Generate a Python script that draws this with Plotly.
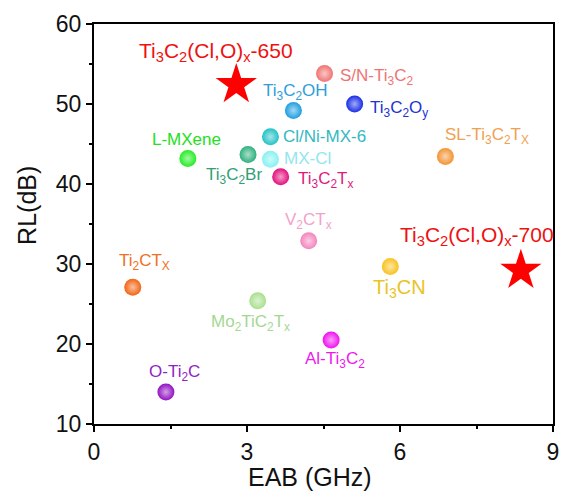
import plotly.graph_objects as go

# ---------------- data ----------------
ball_names = ["S/N-Ti<sub>3</sub>C<sub>2</sub>", "Ti<sub>3</sub>C<sub>2</sub>OH", "Ti<sub>3</sub>C<sub>2</sub>O<sub>y</sub>",
              "Cl/Ni-MX-6", "L-MXene", "Ti<sub>3</sub>C<sub>2</sub>Br", "MX-Cl",
              "Ti<sub>3</sub>C<sub>2</sub>T<sub>x</sub>", "SL-Ti<sub>3</sub>C<sub>2</sub>T<sub>X</sub>",
              "V<sub>2</sub>CT<sub>x</sub>", "Ti<sub>2</sub>CT<sub>X</sub>", "Ti<sub>3</sub>CN",
              "Mo<sub>2</sub>TiC<sub>2</sub>T<sub>x</sub>", "Al-Ti<sub>3</sub>C<sub>2</sub>", "O-Ti<sub>2</sub>C"]
ball_eab = [4.52, 3.91, 5.11, 3.46, 1.84, 3.02, 3.46, 3.66, 6.89, 4.21, 0.76, 5.81, 3.21, 4.65, 1.41]
ball_rl = [53.8, 49.2, 50.0, 45.9, 43.2, 43.7, 43.1, 40.9, 43.45, 32.9, 27.1, 29.7, 25.4, 20.5, 14.0]

star_names = ["Ti<sub>3</sub>C<sub>2</sub>(Cl,O)<sub>x</sub>-650", "Ti<sub>3</sub>C<sub>2</sub>(Cl,O)<sub>x</sub>-700"]
star_eab = [2.79, 8.37]
star_rl = [52.4, 29.2]

x_ticks = [0, 3, 6, 9]
y_ticks = [10, 20, 30, 40, 50, 60]

# ---------------- styles ----------------
ball_colors = ["#F07373", "#1E9EE0", "#1A2EE6", "#22C2C6", "#22EE22", "#2EB07E", "#86F2F2",
               "#E2107C", "#F39332", "#F384BC", "#F26412", "#F8C21E", "#A8E08E", "#F010F0", "#9212C2"]
text_colors = ["#EE7474", "#2E9ED6", "#2232D2", "#34B8C2", "#22E022", "#32A074", "#92E6EE",
               "#DE1A80", "#F0A050", "#F2A2CA", "#F07022", "#E8C424", "#A4D892", "#EE18EE", "#9024C2"]
text_sizes = [17, 17, 17, 17, 17, 17, 17, 17, 17, 17, 17, 20, 17, 17, 17]
# label placement: (xanchor, xshift px, yshift px)
ball_label_pos = [("left", 13, -3), ("center", 2, 18), ("left", 13, -5), ("left", 11, 0),
                  ("center", -1, 19), ("center", -14, -22), ("left", 12, 1), ("left", 15, -3),
                  ("left", -2, 20), ("center", 0, 20), ("center", 12, 25), ("center", 9, -22),
                  ("center", -7, -22), ("center", 4, -20), ("center", 9, 19)]
star_label_pos = [("center", -20, 33), ("center", -44, 34)]


def tint(hexc, f=0.6):
    r, g, b = int(hexc[1:3], 16), int(hexc[3:5], 16), int(hexc[5:7], 16)
    r, g, b = [int(c + (255 - c) * f) for c in (r, g, b)]
    return f"#{r:02x}{g:02x}{b:02x}"


fig = go.Figure()
fig.add_trace(go.Scatter(
    x=ball_eab, y=ball_rl, mode="markers",
    marker=dict(size=17, color=ball_colors, line=dict(width=0),
                gradient=dict(type="radial", color=[tint(c) for c in ball_colors])),
    showlegend=False, hoverinfo="skip"))
fig.add_trace(go.Scatter(
    x=star_eab, y=star_rl, mode="markers",
    marker=dict(size=31, symbol="star", color="#FF0000", line=dict(width=0)),
    showlegend=False, hoverinfo="skip"))

FONT = "Liberation Sans, Arial"
annotations = []
for name, x, y, col, sz, (xa, xs, ys) in zip(ball_names, ball_eab, ball_rl, text_colors, text_sizes, ball_label_pos):
    annotations.append(dict(x=x, y=y, xref="x", yref="y", text=name, showarrow=False,
                            xanchor=xa, yanchor="middle", xshift=xs, yshift=ys,
                            font=dict(size=sz, color=col, family=FONT)))
for name, x, y, (xa, xs, ys) in zip(star_names, star_eab, star_rl, star_label_pos):
    annotations.append(dict(x=x, y=y, xref="x", yref="y", text=name, showarrow=False,
                            xanchor=xa, yanchor="middle", xshift=xs, yshift=ys,
                            font=dict(size=21, color="#EE1111", family=FONT)))

# axis titles placed by pixel position (paper coords)
L, R, T, B, W, H = 94, 7, 24, 68, 566, 492
pw, ph = W - L - R, H - T - B
annotations.append(dict(x=(313 - L) / pw, y=-(477 - (H - B)) / ph, xref="paper", yref="paper",
                        text="EAB (GHz)", showarrow=False, xanchor="center", yanchor="middle",
                        font=dict(size=25, color="#111111", family=FONT)))
annotations.append(dict(x=-(L - 26) / pw, y=((H - B) - 205) / ph, xref="paper", yref="paper",
                        text="RL(dB)", showarrow=False, textangle=-90, xanchor="center", yanchor="middle",
                        font=dict(size=25, color="#111111", family=FONT)))

axis_common = dict(showgrid=False, zeroline=False, showline=True, linewidth=2, linecolor="#000000",
                   mirror=True, ticks="outside", ticklen=6, tickwidth=2, tickcolor="#000000",
                   tickfont=dict(size=23, color="#111111", family=FONT))

fig.update_layout(
    width=W, height=H,
    margin=dict(l=L, r=R, t=T, b=B),
    paper_bgcolor="white", plot_bgcolor="white",
    xaxis=dict(range=[0, 9], tickvals=x_ticks, ticktext=[str(v) for v in x_ticks],
               minor=dict(dtick=1.5, ticks="outside", ticklen=3, tickwidth=2, tickcolor="#000000"),
               **axis_common),
    yaxis=dict(range=[10, 60], tickvals=y_ticks, ticktext=[str(v) for v in y_ticks],
               minor=dict(dtick=5, ticks="outside", ticklen=3, tickwidth=2, tickcolor="#000000"),
               **axis_common),
    annotations=annotations,
)

fig.write_html("out.html", config={"displayModeBar": False},
               post_script="document.body.style.margin='0px';document.body.style.overflow='hidden';")
